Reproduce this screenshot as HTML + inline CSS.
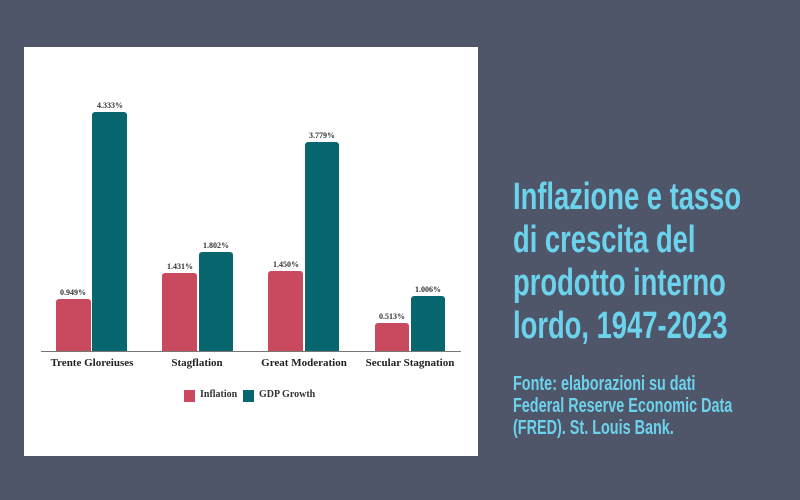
<!DOCTYPE html>
<html><head><style>
body{margin:0;width:800px;height:500px;overflow:hidden;background:#50566a;position:relative;font-family:"Liberation Serif",serif}
.panel{position:absolute;left:24px;top:47px;width:454px;height:409px;background:#fff}
.t{position:absolute;left:513px;color:#6cd3ec;font-family:"Liberation Sans Narrow","Liberation Sans",sans-serif;white-space:nowrap;transform-origin:0 0}
.bar{position:absolute;border-radius:3px 3px 0 0}
.r{background:#c94a5e}.g{background:#08666f}
.lab{position:absolute;font-size:8px;font-weight:bold;color:#333;transform:translateX(-50%)}
.cat{position:absolute;top:357px;font-size:11px;font-weight:bold;color:#222;transform:translateX(-50%);white-space:nowrap}
</style></head><body>
<div class="panel"></div>
<div style="position:absolute;left:41px;top:351px;width:420px;height:1px;background:#777"></div>
<div class="bar r" style="left:56px;top:299px;width:35px;height:52px"></div>
<div class="bar g" style="left:92px;top:112px;width:35px;height:239px"></div>
<div class="bar r" style="left:162px;top:273px;width:35px;height:78px"></div>
<div class="bar g" style="left:199px;top:252px;width:34px;height:99px"></div>
<div class="bar r" style="left:268px;top:271px;width:35px;height:80px"></div>
<div class="bar g" style="left:305px;top:142px;width:34px;height:209px"></div>
<div class="bar r" style="left:375px;top:323px;width:34px;height:28px"></div>
<div class="bar g" style="left:411px;top:296px;width:34px;height:55px"></div>
<div class="lab" style="left:73px;top:288px">0.949%</div>
<div class="lab" style="left:110px;top:101px">4.333%</div>
<div class="lab" style="left:180px;top:262px">1.431%</div>
<div class="lab" style="left:216px;top:241px">1.802%</div>
<div class="lab" style="left:286px;top:260px">1.450%</div>
<div class="lab" style="left:322px;top:131px">3.779%</div>
<div class="lab" style="left:392px;top:312px">0.513%</div>
<div class="lab" style="left:428px;top:285px">1.006%</div>
<div class="cat" style="left:92px">Trente Gloreiuses</div>
<div class="cat" style="left:197px">Stagflation</div>
<div class="cat" style="left:304px">Great Moderation</div>
<div class="cat" style="left:410px">Secular Stagnation</div>
<div style="position:absolute;left:184px;top:390px;width:11px;height:12px;background:#c94a5e"></div>
<div style="position:absolute;left:200px;top:389px;font-size:10px;font-weight:bold;color:#333">Inflation</div>
<div style="position:absolute;left:243px;top:390px;width:11px;height:12px;background:#08666f"></div>
<div style="position:absolute;left:259px;top:389px;font-size:10px;font-weight:bold;color:#333">GDP Growth</div>
<div class="t" style="top:176px;font-size:38px;line-height:43px;font-weight:bold;transform:scaleX(0.72)">Inflazione e tasso<br>di crescita del<br>prodotto interno<br>lordo, 1947-2023</div>
<div class="t" style="top:373px;font-size:20px;line-height:22px;font-weight:bold;transform:scaleX(0.72)">Fonte: elaborazioni su dati<br>Federal Reserve Economic Data<br>(FRED). St. Louis Bank.</div>
</body></html>
